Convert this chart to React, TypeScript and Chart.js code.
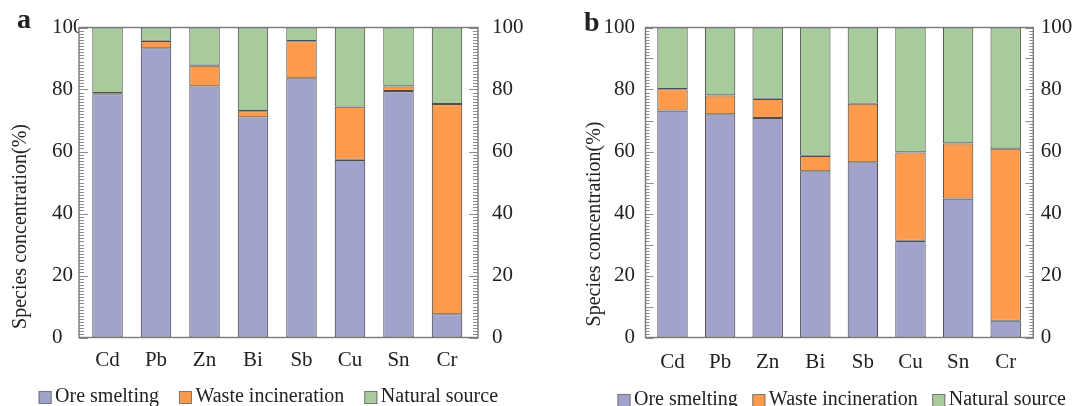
import React, { useEffect, useRef } from 'react';
import { Chart, registerables } from 'chart.js';

Chart.register(...registerables);

// ---------- data ----------
const categories = ['Cd', 'Pb', 'Zn', 'Bi', 'Sb', 'Cu', 'Sn', 'Cr'];
const seriesNames = ['Ore smelting', 'Waste incineration', 'Natural source'];
const yTickStep = 20;

// panel a
const oreA = [78.5, 93.3, 81.0, 71.0, 83.6, 57.3, 79.5, 7.5];
const wasteA = [0.3, 2.4, 6.7, 2.0, 12.0, 17.2, 1.5, 67.8];
const naturalA = [21.2, 4.3, 12.3, 27.0, 4.4, 25.5, 19.0, 24.7];

// panel b
const oreB = [73.2, 72.0, 70.8, 53.6, 56.5, 31.2, 44.8, 5.4];
const wasteB = [6.9, 6.1, 6.2, 5.0, 18.9, 28.5, 17.8, 55.5];
const naturalB = [19.9, 21.9, 23.0, 41.4, 24.6, 40.3, 37.4, 39.1];

// ---------- styles ----------
const COLORS = ['#A1A3CC', '#FE9A4B', '#A8CB9B'];
const BAR_BORDER = '#4e4e4e';
const FRAME_COLOR = '#7a7a7a';
const TICK_COLOR = '#8c8c8c';
const TEXT = '#222222';
const FONT = '"Liberation Serif", "Times New Roman", serif';
const CW = 536;
const CH = 406;

interface PanelCfg {
  letter: string;
  series: number[][];
  canvasLeft: number;
  area: { left: number; right: number; top: number; bottom: number };
  xMin: number;
  xMax: number;
  barFrac: number;
  padLeft: number;
  leftAlign: 'far' | 'near';
  leftPad: number;
  rightPad: number;
  xLabelPad: number;
  titleX: number;
  titleY: number;
  letterX: number;
  letterY: number;
  legendX: number;
  legendGap: number;
  legendBase: number;
  majorEvery: number;
  majorLen: number;
  minorLen: number;
}

const panelA: PanelCfg = {
  letter: 'a',
  series: [oreA, wasteA, naturalA],
  canvasLeft: 0,
  area: { left: 79, right: 478, top: 27.5, bottom: 337.5 },
  xMin: -0.588,
  xMax: 7.639,
  barFrac: 0.629,
  padLeft: 52,
  leftAlign: 'far',
  leftPad: 6,
  rightPad: 14,
  xLabelPad: 10.5,
  titleX: 20.7,
  titleY: 226.5,
  letterX: 17,
  letterY: 28,
  legendX: 38.6,
  legendGap: 20,
  legendBase: 402,
  majorEvery: 20,
  majorLen: 9,
  minorLen: 5,
};

const panelB: PanelCfg = {
  letter: 'b',
  series: [oreB, wasteB, naturalB],
  canvasLeft: 536,
  area: { left: 109.5, right: 497.3, top: 27.5, bottom: 337.5 },
  xMin: -0.567,
  xMax: 7.58,
  barFrac: 0.64,
  padLeft: 0,
  leftAlign: 'near',
  leftPad: 10.5,
  rightPad: 7.5,
  xLabelPad: 12,
  titleX: 58.5,
  titleY: 224,
  letterX: 48,
  letterY: 31,
  legendX: 81.5,
  legendGap: 14.5,
  legendBase: 405,
  majorEvery: 10,
  majorLen: 8,
  minorLen: 4,
};

function decorPlugin(p: PanelCfg) {
  return {
    id: 'decor_' + p.letter,
    afterDraw(chart: any) {
      const ctx = chart.ctx as CanvasRenderingContext2D;
      const ca = chart.chartArea;
      const ys = chart.scales.y;
      ctx.save();
      // minor / major ticks, inward on both sides
      ctx.strokeStyle = TICK_COLOR;
      ctx.lineWidth = 1;
      ctx.beginPath();
      for (let v = 0; v <= 100; v += 1) {
        const py = Math.round(ys.getPixelForValue(v)) + 0.5;
        const len = v % p.majorEvery === 0 ? p.majorLen : p.minorLen;
        ctx.moveTo(ca.left, py);
        ctx.lineTo(ca.left + len, py);
        ctx.moveTo(ca.right, py);
        ctx.lineTo(ca.right - len, py);
      }
      ctx.stroke();
      // frame
      ctx.strokeStyle = FRAME_COLOR;
      ctx.lineWidth = 1.4;
      ctx.strokeRect(ca.left, ca.top, ca.right - ca.left, ca.bottom - ca.top);

      // y title
      ctx.fillStyle = TEXT;
      ctx.save();
      ctx.translate(p.titleX, p.titleY);
      ctx.rotate(-Math.PI / 2);
      ctx.textAlign = 'center';
      ctx.textBaseline = 'middle';
      ctx.font = `20px ${FONT}`;
      ctx.fillText('Species concentration(%)', 0, 0);
      ctx.restore();

      // panel letter
      ctx.font = `bold 28px ${FONT}`;
      ctx.textAlign = 'left';
      ctx.textBaseline = 'alphabetic';
      ctx.fillText(p.letter, p.letterX, p.letterY);

      // legend
      ctx.font = `20px ${FONT}`;
      let x = p.legendX;
      chart.data.datasets.forEach((ds: any) => {
        const box = 13;
        const top = p.legendBase - 11;
        ctx.fillStyle = ds.backgroundColor;
        ctx.fillRect(x, top, box, box);
        ctx.strokeStyle = '#777';
        ctx.lineWidth = 1;
        ctx.strokeRect(x + 0.5, top + 0.5, box - 1, box - 1);
        ctx.fillStyle = TEXT;
        ctx.fillText(ds.label, x + box + 3.5, p.legendBase);
        x += box + 3.5 + ctx.measureText(ds.label).width + p.legendGap;
      });
      ctx.restore();
    },
  };
}

function buildConfig(p: PanelCfg): any {
  const tickFont = { size: 21, family: FONT };
  return {
    type: 'bar',
    data: {
      datasets: seriesNames.map((name, k) => ({
        label: name,
        data: p.series[k].map((v, i) => ({ x: i, y: v })),
        backgroundColor: COLORS[k],
        borderColor: BAR_BORDER,
        borderWidth: 1.1,
        borderSkipped: false,
        stack: 's',
        barPercentage: 1,
        categoryPercentage: p.barFrac,
      })),
    },
    options: {
      responsive: false,
      animation: false,
      devicePixelRatio: 1,
      layout: { padding: { left: p.padLeft, right: 0, top: p.area.top, bottom: 0 } },
      plugins: { legend: { display: false }, tooltip: { enabled: false } },
      scales: {
        x: {
          type: 'linear',
          min: p.xMin,
          max: p.xMax,
          offset: false,
          grid: { display: false, drawTicks: false },
          border: { display: false },
          afterBuildTicks: (s: any) => {
            s.ticks = categories.map((_, i) => ({ value: i }));
          },
          afterFit: (s: any) => {
            s.height = CH - p.area.bottom;
            s.paddingLeft = 0;
            s.paddingRight = 0;
          },
          ticks: {
            autoSkip: false,
            maxRotation: 0,
            minRotation: 0,
            padding: p.xLabelPad,
            font: tickFont,
            color: TEXT,
            callback: (v: number) => categories[v] ?? '',
          },
        },
        y: {
          type: 'linear',
          position: 'left',
          stacked: true,
          min: 0,
          max: 100,
          grid: { display: false, drawTicks: false },
          border: { display: false },
          ticks: {
            stepSize: yTickStep,
            crossAlign: p.leftAlign,
            padding: p.leftPad,
            font: tickFont,
            color: TEXT,
          },
          afterFit: (s: any) => {
            s.width = p.area.left - p.padLeft;
            s.paddingTop = 0;
            s.paddingBottom = 0;
          },
        },
        y2: {
          type: 'linear',
          position: 'right',
          min: 0,
          max: 100,
          grid: { display: false, drawTicks: false },
          border: { display: false },
          ticks: { stepSize: yTickStep, padding: p.rightPad, font: tickFont, color: TEXT },
          afterFit: (s: any) => {
            s.width = CW - p.area.right;
            s.paddingTop = 0;
            s.paddingBottom = 0;
          },
        },
      },
    },
    plugins: [decorPlugin(p)],
  };
}

function Panel({ cfg }: { cfg: PanelCfg }) {
  const ref = useRef<HTMLCanvasElement>(null);
  useEffect(() => {
    const chart = new Chart(ref.current as HTMLCanvasElement, buildConfig(cfg));
    return () => chart.destroy();
  }, [cfg]);
  return (
    <canvas
      ref={ref}
      width={CW}
      height={CH}
      style={{ position: 'absolute', left: cfg.canvasLeft, top: 0, width: CW, height: CH }}
    />
  );
}

export default function App() {
  return (
    <div
      style={{
        position: 'absolute',
        left: 0,
        top: 0,
        width: 1072,
        height: 406,
        background: '#ffffff',
        overflow: 'hidden',
      }}
    >
      <Panel cfg={panelA} />
      <Panel cfg={panelB} />
    </div>
  );
}
